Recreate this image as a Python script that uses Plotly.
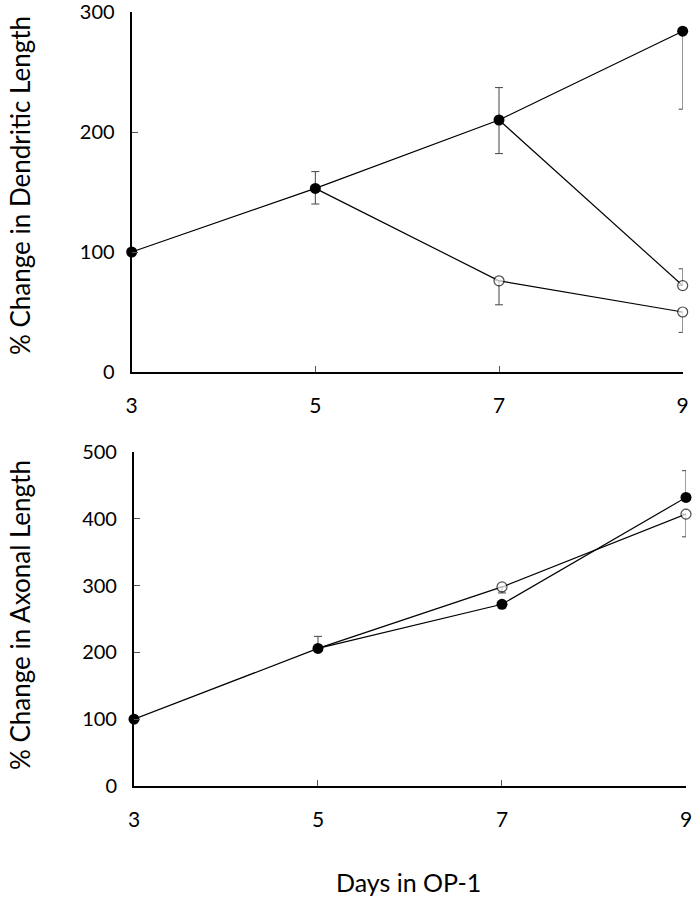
import plotly.graph_objects as go

# ---------------- data ----------------
days = [3, 5, 7, 9]

# Top panel: dendritic length
dend_cont_y = [100, 153, 210, 284]
dend_cont_err_plus = [0, 14, 27, 0]
dend_cont_err_minus = [0, 13, 28, 65]

dend_w5_x = [5, 7, 9]
dend_w5_y = [153, 76, 50]
dend_w5_err_minus = [0, 20, 17]

dend_w7_x = [7, 9]
dend_w7_y = [210, 72]
dend_w7_err_plus = [0, 14]

# Bottom panel: axonal length
ax_cont_y = [100, 206, 272, 432]
ax_cont_err_plus = [0, 18, 0, 40]

ax_w5_x = [5, 7, 9]
ax_w5_y = [206, 298, 407]
ax_w5_err_minus = [0, 9, 34]

y_top_ticks = [0, 100, 200, 300]
y_bot_ticks = [0, 100, 200, 300, 400, 500]
x_ticks = [3, 5, 7, 9]

FONT = "Lato"
ERR_COLOR = "#444444"

fig = go.Figure()


def error_trace(x, y, xa, ya, plus, minus):
    err = dict(type="data", symmetric=False, array=plus, arrayminus=minus,
               color=ERR_COLOR, thickness=1, width=4)
    fig.add_trace(go.Scatter(
        x=x, y=y, xaxis=xa, yaxis=ya, mode="markers",
        marker=dict(size=1, opacity=0), error_y=err,
        cliponaxis=False, showlegend=False, hoverinfo="skip"))


def open_series(x, y, xa, ya):
    sizes = [0] + [10] * (len(x) - 1)
    fig.add_trace(go.Scatter(
        x=x, y=y, xaxis=xa, yaxis=ya, mode="lines+markers",
        line=dict(color="black", width=1.2),
        marker=dict(size=sizes, color="white", symbol="circle",
                    line=dict(color="black", width=1.2)),
        cliponaxis=False, showlegend=False))


def filled_series(x, y, xa, ya):
    fig.add_trace(go.Scatter(
        x=x, y=y, xaxis=xa, yaxis=ya, mode="lines+markers",
        line=dict(color="black", width=1.2),
        marker=dict(size=11, color="black", symbol="circle"),
        cliponaxis=False, showlegend=False))


# error bars first (drawn underneath)
error_trace(dend_w5_x, dend_w5_y, "x", "y", [0] * len(dend_w5_x), dend_w5_err_minus)
error_trace(dend_w7_x, dend_w7_y, "x", "y", dend_w7_err_plus, [0] * len(dend_w7_x))
error_trace(days, dend_cont_y, "x", "y", dend_cont_err_plus, dend_cont_err_minus)
error_trace(ax_w5_x, ax_w5_y, "x2", "y2", [0] * len(ax_w5_x), ax_w5_err_minus)
error_trace(days, ax_cont_y, "x2", "y2", ax_cont_err_plus, [0] * len(days))

# top panel
open_series(dend_w5_x, dend_w5_y, "x", "y")
open_series(dend_w7_x, dend_w7_y, "x", "y")
filled_series(days, dend_cont_y, "x", "y")

# bottom panel
open_series(ax_w5_x, ax_w5_y, "x2", "y2")
filled_series(days, ax_cont_y, "x2", "y2")

axis_common = dict(
    showline=True, linecolor="black", linewidth=2,
    ticks="inside", ticklen=6, tickwidth=1, tickcolor="#555555",
    showgrid=False, zeroline=False, automargin=False,
    ticklabeloverflow="allow",
    tickfont=dict(family=FONT, size=21, color="black"),
)
xaxis_common = dict(axis_common, ticklabelstandoff=14)
yaxis_common = dict(axis_common, ticklabelstandoff=11)
yaxis_common["tickfont"] = dict(family=FONT, size=20, color="black")

T, B = 12, 114
H = 900 - T - B
BOT = 900 - B  # pixel row of bottom plot's x-axis


def py(px):
    return (BOT - px) / H


fig.update_layout(
    width=695, height=900,
    margin=dict(l=131, r=9, t=T, b=B, autoexpand=False),
    paper_bgcolor="white", plot_bgcolor="white",
    font=dict(family=FONT, color="black"),
    xaxis=dict(domain=[0.0012, 0.994], range=[3, 9], tickvals=x_ticks,
               anchor="y", **xaxis_common),
    yaxis=dict(domain=[py(372), 1.0], range=[0, 300], tickvals=y_top_ticks,
               anchor="x", **yaxis_common),
    xaxis2=dict(domain=[0.0054, 1.0], range=[3, 9], tickvals=x_ticks,
                anchor="y2", **xaxis_common),
    yaxis2=dict(domain=[0.0, py(452)], range=[0, 500], tickvals=y_bot_ticks,
                anchor="x2", **yaxis_common),
    annotations=[
        dict(text="% Change in Dendritic Length", textangle=-90,
             xref="paper", yref="paper", x=(20 - 131) / 555, y=py(186),
             xanchor="center", yanchor="middle", showarrow=False,
             font=dict(family=FONT, size=26, color="black")),
        dict(text="% Change in Axonal Length", textangle=-90,
             xref="paper", yref="paper", x=(20 - 131) / 555, y=py(615),
             xanchor="center", yanchor="middle", showarrow=False,
             font=dict(family=FONT, size=26, color="black")),
        dict(text="Days in OP-1",
             xref="paper", yref="paper", x=(408 - 131) / 555, y=py(882),
             xanchor="center", yanchor="middle", showarrow=False,
             font=dict(family=FONT, size=25, color="black")),
    ],
)

fig.write_html("out.html", config={"displayModeBar": False},
               post_script="document.body.style.margin='0px';")
